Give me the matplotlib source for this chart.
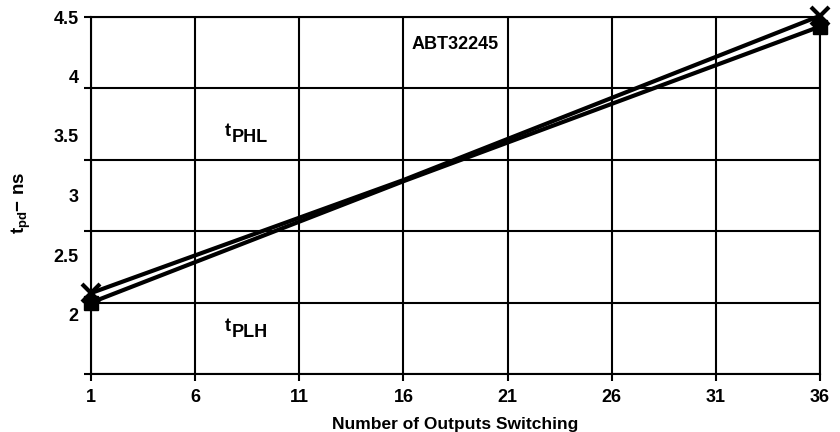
import matplotlib
matplotlib.use("Agg")
import matplotlib.pyplot as plt
from matplotlib.transforms import offset_copy

# Data
x_ticks = [1, 6, 11, 16, 21, 26, 31, 36]
y_labels = [2, 2.5, 3, 3.5, 4, 4.5]
y_grid = [1.5, 2.1, 2.7, 3.3, 3.9, 4.5]

outputs = [1, 16, 36]
tphl = [2.18, 3.13, 4.51]
tplh = [2.10, 3.12, 4.42]

plt.rcParams['font.family'] = ['Liberation Sans', 'DejaVu Sans']
plt.rcParams['font.weight'] = 'bold'
plt.rcParams['mathtext.fontset'] = 'custom'
plt.rcParams['mathtext.rm'] = 'Liberation Sans:bold'
plt.rcParams['mathtext.it'] = 'Liberation Sans:bold'
plt.rcParams['mathtext.bf'] = 'Liberation Sans:bold'

fig = plt.figure(figsize=(8.4, 4.32), dpi=100)
ax = fig.add_axes([91/840, 1-374/432, (820-91)/840, (374-17)/432])

ax.plot(outputs, tphl, color='black', lw=3, marker='x', ms=13, mew=3,
        markevery=[0, 2], clip_on=False, zorder=5)
ax.plot(outputs, tplh, color='black', lw=3, marker='s', ms=10,
        markevery=[0, 2], clip_on=False, zorder=5)

ax.set_xlim(1, 36)
ax.set_ylim(1.5, 4.5)

ax.set_xticks(x_ticks)
ax.set_xticklabels([str(v) for v in x_ticks], fontsize=13, fontweight='bold')
ax.tick_params(axis='x', which='major', direction='out', length=5, width=1.5, pad=6)
ax.grid(True, axis='x', which='major', color='black', lw=1.5)

ax.set_yticks(y_labels)
ax.set_yticklabels([f'{v:g}' for v in y_labels], fontsize=13, fontweight='bold')
ax.tick_params(axis='y', which='major', length=0, pad=9)
ax.yaxis.remove_overlapping_locs = False
ax.set_yticks(y_grid, minor=True)
ax.tick_params(axis='y', which='minor', direction='out', length=5, width=1.5)
ax.grid(True, axis='y', which='minor', color='black', lw=1.5)
ax.grid(False, axis='y', which='major')

for s in ax.spines.values():
    s.set_linewidth(1.5)

ax.set_xlabel('Number of Outputs Switching', fontsize=12.5, fontweight='bold', labelpad=8)
ax.set_ylabel(r'$\mathregular{t_{pd}}$' + '\u2212 ns', fontsize=13.5, fontweight='bold')
ax.yaxis.set_label_coords(-0.080, 0.48)

ax.text(18.47, 4.27, 'ABT32245', fontsize=13, fontweight='bold', ha='center', va='center')

def sub_label(x, y, main, sub):
    ax.text(x, y, main, fontsize=13, fontweight='bold', ha='right', va='baseline')
    tr = offset_copy(ax.transData, fig=fig, x=1, y=-4, units='points')
    ax.text(x, y, sub, fontsize=13, fontweight='bold', ha='left', va='baseline', transform=tr)

sub_label(7.7, 3.50, 't', 'PHL')
sub_label(7.7, 1.86, 't', 'PLH')

fig.savefig('out.png', dpi=100)
